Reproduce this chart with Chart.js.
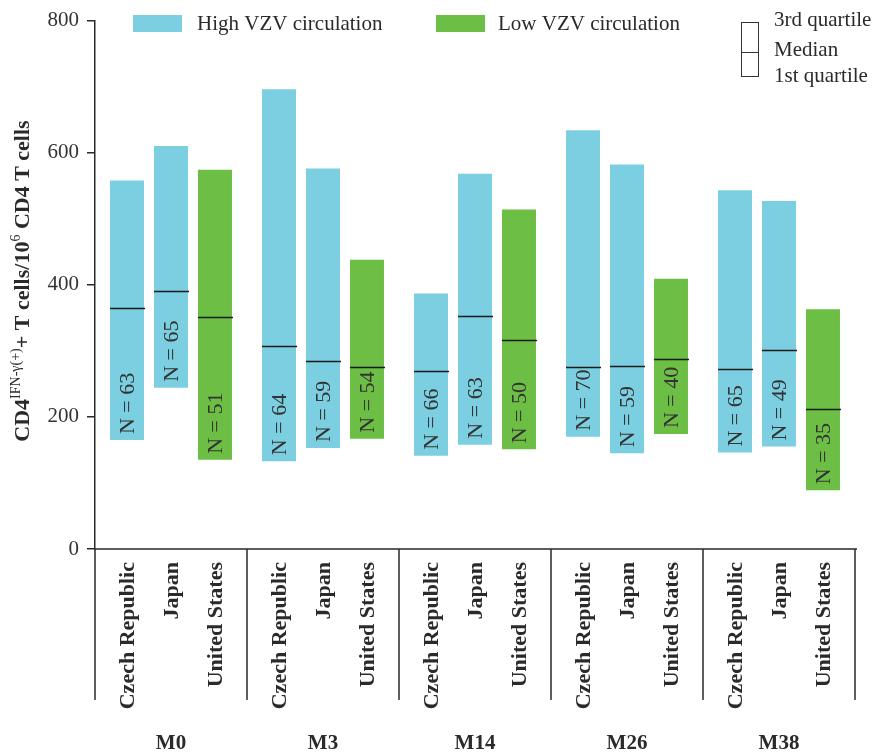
<!DOCTYPE html>
<html>
<head>
<meta charset="utf-8">
<script src="https://cdn.jsdelivr.net/npm/chart.js@4.4.1/dist/chart.umd.min.js"></script>
<style>
  html, body { margin: 0; padding: 0; background: #ffffff; }
  #wrap { width: 876px; height: 756px; }
</style>
</head>
<body>
<div id="wrap"><canvas id="chart" width="876" height="756"></canvas></div>
<script>
// Time points and countries
const timepoints = ['M0', 'M3', 'M14', 'M26', 'M38'];
const countries = ['Czech Republic', 'Japan', 'United States'];

// Quartiles of CD4 IFN-γ+ T cells per 10^6 CD4 T cells
const czechQ1     = [165, 133, 141, 170, 146];
const czechMedian = [365, 307, 270, 275, 272];
const czechQ3     = [558, 696, 387, 634, 543];

const japanQ1     = [244, 153, 158, 145, 155];
const japanMedian = [390, 284, 353, 277, 302];
const japanQ3     = [610, 576, 568, 582, 527];

const usQ1        = [135, 167, 151, 174, 89];
const usMedian    = [352, 275, 316, 288, 212];
const usQ3        = [574, 438, 514, 409, 363];

// Number of subjects per bar
const czechN = [63, 64, 66, 70, 65];
const japanN = [65, 59, 63, 59, 49];
const usN    = [51, 54, 50, 40, 35];

const yTicks = [0, 200, 400, 600, 800];

const HIGH = '#7bcfe0';
const LOW = '#6dbe45';
const INK = '#2a2a2a';
const SERIF = '"Liberation Serif", "Times New Roman", serif';

function quartileBars(q1, q3) {
  return q1.map((v, i) => [v, q3[i]]);
}

const datasets = [
  { label: countries[0], data: quartileBars(czechQ1, czechQ3), medians: czechMedian, counts: czechN, backgroundColor: HIGH },
  { label: countries[1], data: quartileBars(japanQ1, japanQ3), medians: japanMedian, counts: japanN, backgroundColor: HIGH },
  { label: countries[2], data: quartileBars(usQ1, usQ3), medians: usMedian, counts: usN, backgroundColor: LOW }
].map(d => Object.assign(d, {
  borderWidth: 0,
  categoryPercentage: 0.868,
  barPercentage: 0.773
}));

// Medians, sample sizes, country/time labels, frame lines and legends
const decorations = {
  id: 'decorations',
  afterDatasetsDraw(chart) {
    const ctx = chart.ctx;
    const ys = chart.scales.y;
    const area = chart.chartArea;

    chart.data.datasets.forEach((ds, di) => {
      const meta = chart.getDatasetMeta(di);
      meta.data.forEach((bar, i) => {
        const half = bar.width / 2;
        // median line
        const ym = Math.round(ys.getPixelForValue(ds.medians[i])) + 0.5;
        ctx.save();
        ctx.strokeStyle = '#1a1a1a';
        ctx.lineWidth = 1.5;
        ctx.beginPath();
        ctx.moveTo(bar.x - half, ym);
        ctx.lineTo(bar.x + half + 1, ym);
        ctx.stroke();
        ctx.restore();

        // N label, reading upward from the bottom of the bar
        const yb = ys.getPixelForValue(ds.data[i][0]) - 6;
        ctx.save();
        ctx.translate(bar.x, yb);
        ctx.rotate(-Math.PI / 2);
        ctx.font = '22px ' + SERIF;
        ctx.fillStyle = '#333333';
        ctx.textAlign = 'left';
        ctx.textBaseline = 'middle';
        ctx.fillText('N = ' + ds.counts[i], 0, 1);
        ctx.restore();

        // country name under the axis
        ctx.save();
        ctx.translate(bar.x, area.bottom + 13);
        ctx.rotate(-Math.PI / 2);
        ctx.font = 'bold 22px ' + SERIF;
        ctx.fillStyle = INK;
        ctx.textAlign = 'right';
        ctx.textBaseline = 'middle';
        ctx.fillText(ds.label, 0, 1);
        ctx.restore();
      });
    });

    // frame below the plot: baseline and group separators
    const groupW = (area.right - area.left) / timepoints.length;
    ctx.save();
    ctx.strokeStyle = INK;
    ctx.lineWidth = 1.5;
    ctx.beginPath();
    ctx.moveTo(area.left, area.bottom);
    ctx.lineTo(area.right + 2, area.bottom);
    for (let g = 0; g <= timepoints.length; g++) {
      const x = area.left + g * groupW;
      ctx.moveTo(x, area.bottom);
      ctx.lineTo(x, area.bottom + 151);
    }
    ctx.stroke();

    // time point labels
    ctx.font = 'bold 21px ' + SERIF;
    ctx.fillStyle = INK;
    ctx.textAlign = 'center';
    ctx.textBaseline = 'alphabetic';
    timepoints.forEach((t, g) => {
      ctx.fillText(t, chart.scales.x.getPixelForValue(g), 749);
    });
    ctx.restore();

    // series legend
    ctx.save();
    ctx.font = '21px ' + SERIF;
    ctx.fillStyle = HIGH;
    ctx.fillRect(133, 15, 49, 17);
    ctx.fillStyle = LOW;
    ctx.fillRect(436, 15, 49, 17);
    ctx.fillStyle = INK;
    ctx.textAlign = 'left';
    ctx.textBaseline = 'alphabetic';
    ctx.fillText('High VZV circulation', 197, 30);
    ctx.fillText('Low VZV circulation', 498, 30);

    // quartile key
    ctx.strokeStyle = '#333333';
    ctx.lineWidth = 1;
    ctx.strokeRect(741.5, 22.5, 17, 54);
    ctx.beginPath();
    ctx.moveTo(741.5, 52.5);
    ctx.lineTo(758.5, 52.5);
    ctx.stroke();
    ctx.fillText('3rd quartile', 774, 26);
    ctx.fillText('Median', 774, 56);
    ctx.fillText('1st quartile', 774, 82);
    ctx.restore();

    // y axis title with superscripts
    const parts = [
      { t: 'CD4', sup: false },
      { t: 'IFN-γ(+)', sup: true },
      { t: '+ T cells/10', sup: false },
      { t: '6', sup: true },
      { t: ' CD4 T cells', sup: false }
    ];
    const mainFont = 'bold 22px ' + SERIF;
    const supFont = '14px ' + SERIF;
    ctx.save();
    let total = 0;
    parts.forEach(p => {
      ctx.font = p.sup ? supFont : mainFont;
      p.w = ctx.measureText(p.t).width;
      total += p.w;
    });
    ctx.translate(29, 281);
    ctx.rotate(-Math.PI / 2);
    ctx.fillStyle = INK;
    ctx.textAlign = 'left';
    ctx.textBaseline = 'alphabetic';
    let x = -total / 2;
    parts.forEach(p => {
      ctx.font = p.sup ? supFont : mainFont;
      ctx.fillText(p.t, x, p.sup ? -9 : 0);
      x += p.w;
    });
    ctx.restore();
  }
};

new Chart(document.getElementById('chart'), {
  type: 'bar',
  data: { labels: timepoints, datasets },
  options: {
    responsive: false,
    animation: false,
    layout: { padding: { top: 17, right: 21, left: 0, bottom: 0 } },
    plugins: { legend: { display: false }, tooltip: { enabled: false } },
    scales: {
      x: {
        grid: { display: false },
        border: { display: false },
        ticks: { display: false },
        afterFit(scale) { scale.height = 207; }
      },
      y: {
        min: 0,
        max: 800,
        afterBuildTicks(scale) { scale.ticks = yTicks.map(v => ({ value: v })); },
        ticks: {
          color: '#333333',
          font: { family: SERIF, size: 21 },
          padding: 8
        },
        grid: { drawOnChartArea: false, tickLength: 8, color: INK, lineWidth: 1.5 },
        border: { color: INK, width: 1.5 },
        afterFit(scale) { scale.width = 95; }
      }
    }
  },
  plugins: [decorations]
});
</script>
</body>
</html>
